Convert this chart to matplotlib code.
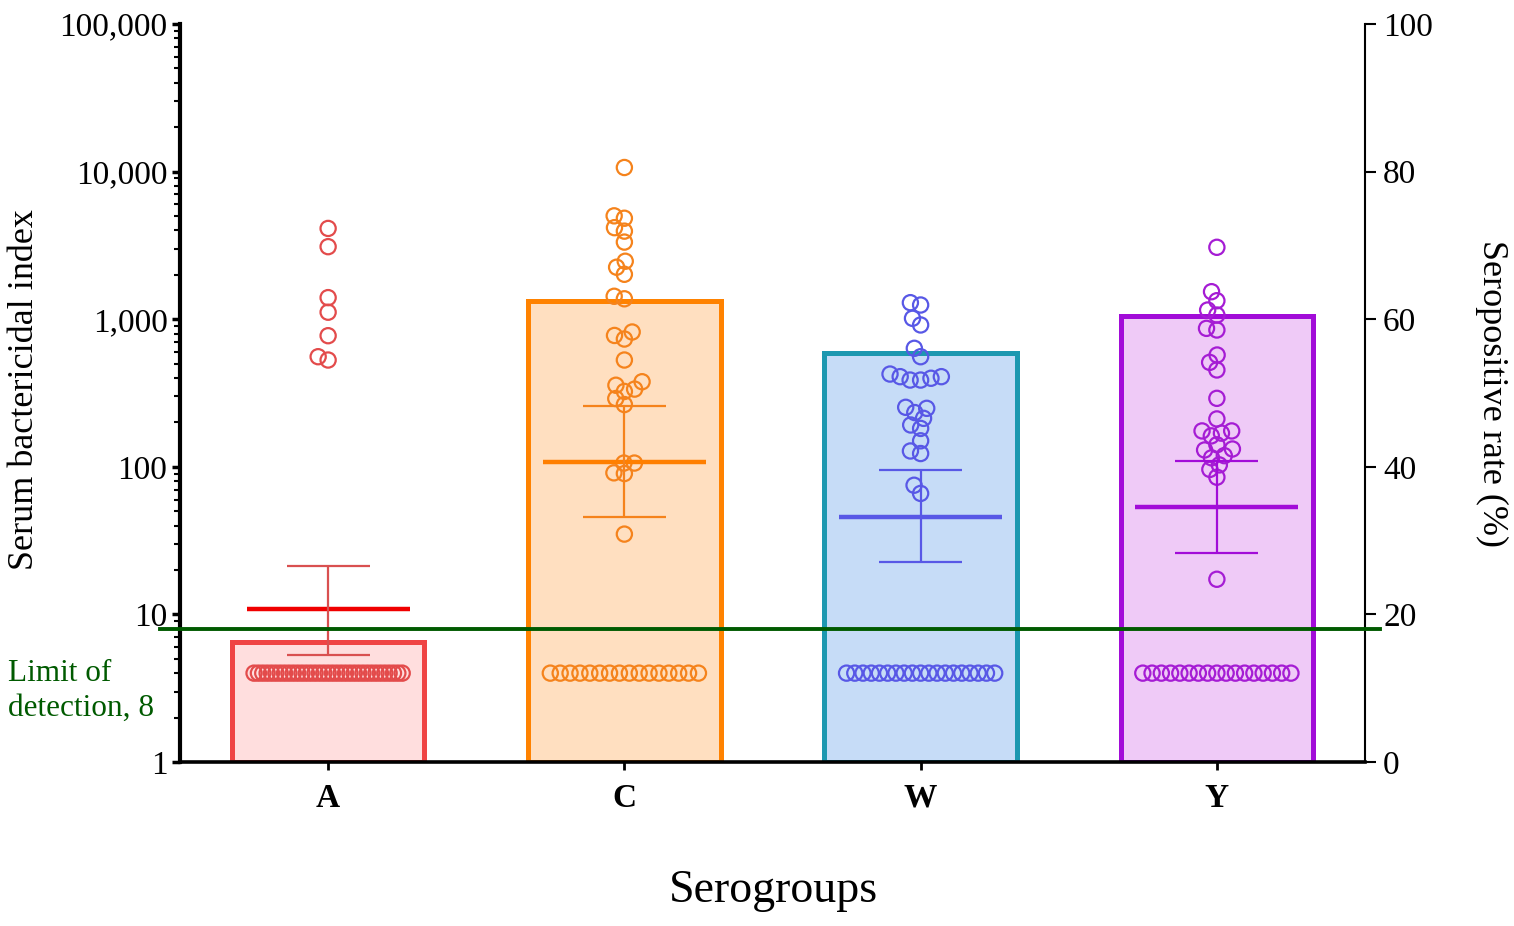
import numpy as np
import matplotlib
matplotlib.use("Agg")
import matplotlib.pyplot as plt
from matplotlib.ticker import FixedLocator, FuncFormatter, LogLocator, NullFormatter

plt.rcParams['font.family'] = ['Liberation Serif', 'DejaVu Serif']

# ---------------- data ----------------
groups = ["A", "C", "W", "Y"]
seropositive_rate = [16.3, 62.5, 55.4, 60.4]          # % (right axis, bars)

A_pos = [4120, 3100, 1400, 1115, 773, 557, 529]
C_pos = [10660, 5015, 4830, 4170, 3950, 3330, 2470, 2250, 2015, 1430, 1375,
         819, 776, 734, 529, 377, 357, 336, 324, 290, 264, 106, 106, 91, 90, 35]
W_pos = [1294, 1248, 1014, 914, 635, 557, 425, 408, 408, 398, 387, 387,
         253, 249, 233, 213, 192, 182, 150, 128, 123, 75, 66]
Y_pos = [3070, 1536, 1334, 1154, 1067, 867, 845, 572, 510, 453, 291, 211,
         175, 175, 169, 162, 141, 132, 130, 119, 115, 103, 96, 85, 17.3]
negative_counts = [35, 16, 19, 17]        # subjects below limit of detection
negative_value = 4                        # plotted at half the LOD
lod = 8

gmt = [10.8, 108, 45.9, 53.7]
ci_low = [5.33, 45.4, 22.8, 26.2]
ci_high = [21.4, 258, 95.1, 110]

positives = [A_pos, C_pos, W_pos, Y_pos]

# ---------------- styles ----------------
bar_edge = ["#EF4444", "#FF8200", "#1D98B0", "#A20CD8"]
bar_fill = ["#FFDEDE", "#FFDFC0", "#C6DCF7", "#EFCAF7"]
pt_color = ["#E34B4B", "#F5831C", "#5858E6", "#A51CD4"]
mean_color = ["#F00000", "#FF7F00", "#5858E6", "#A20CD8"]
err_color = ["#D95050", "#F5831C", "#5858E6", "#A20CD8"]
lod_color = "#005A00"

W_PX, H_PX = 1514, 926
fig = plt.figure(figsize=(W_PX / 100, H_PX / 100), dpi=100)
L, R, T, B = 180, 1365, 24, 762
rect = [L / W_PX, 1 - B / H_PX, (R - L) / W_PX, (B - T) / H_PX]
ax2 = fig.add_axes(rect)
ax = fig.add_axes(rect)
ax.set_zorder(ax2.get_zorder() + 1)
ax.patch.set_visible(False)

x = np.arange(len(groups))
xlim = (-0.5, 3.5)

# bars on right axis
ax2.bar(x, seropositive_rate, width=0.65, color=bar_fill, edgecolor=bar_edge,
        linewidth=3.6, zorder=1)
ax2.set_ylim(0, 100)
ax2.set_xlim(*xlim)
ax2.yaxis.tick_right()

ax.set_yscale("log")
ax.set_ylim(1, 100000)
ax.set_xlim(*xlim)

px_per_x = (R - L) / (xlim[1] - xlim[0])
px_per_dec = (B - T) / 5.0


def swarm(vals, dmin=10.5):
    ys = np.log10(np.asarray(vals, float)) * px_per_dec
    order = np.argsort(ys)
    xs = np.zeros(len(ys))
    placed = []
    for i in order:
        y = ys[i]
        ints = []
        for (xj, yj) in placed:
            dy = abs(y - yj)
            if dy < dmin:
                w = np.sqrt(dmin ** 2 - dy ** 2)
                ints.append((xj - w, xj + w))
        cands = [0.0] + [a for a, b in ints] + [b for a, b in ints]
        cands.sort(key=lambda c: (abs(c), c))
        chosen = 0.0
        for c in cands:
            if all(not (a + 1e-6 < c < b - 1e-6) for a, b in ints):
                chosen = c
                break
        xs[i] = chosen
        placed.append((chosen, y))
    return xs / px_per_x


for i in range(len(groups)):
    vals = positives[i]
    offs = swarm(vals)
    ax.scatter(x[i] + offs, vals, s=120, facecolors="none", edgecolors=pt_color[i],
               linewidths=1.6, zorder=4)
    n = negative_counts[i]
    nx = x[i] + np.linspace(-0.25, 0.25, n)
    ax.scatter(nx, [negative_value] * n, s=120, facecolors="none",
               edgecolors=pt_color[i], linewidths=1.6, zorder=4)
    # geometric mean and CI
    ax.hlines(gmt[i], x[i] - 0.275, x[i] + 0.275, colors=mean_color[i], linewidth=3.2, zorder=5)
    ax.vlines(x[i], ci_low[i], ci_high[i], colors=err_color[i], linewidth=1.6, zorder=5)
    ax.hlines([ci_low[i], ci_high[i]], x[i] - 0.14, x[i] + 0.14, colors=err_color[i],
              linewidth=1.6, zorder=5)

# limit of detection
ax.plot([-0.017, 1.013], [lod, lod], transform=ax.get_yaxis_transform(),
        color=lod_color, linewidth=2.8, clip_on=False, zorder=6)

# axes styling
for s in ["top", "right"]:
    ax.spines[s].set_visible(False)
ax.spines["left"].set_linewidth(3.0)
ax.spines["bottom"].set_linewidth(2.6)
for s in ["top", "left", "bottom"]:
    ax2.spines[s].set_visible(False)
ax2.spines["right"].set_linewidth(1.5)

ax.yaxis.set_major_locator(FixedLocator([1, 10, 100, 1000, 10000, 100000]))
ax.yaxis.set_major_formatter(FuncFormatter(lambda v, p: f"{int(round(v)):,}"))
ax.yaxis.set_minor_locator(LogLocator(base=10, subs=np.arange(2, 10)))
ax.yaxis.set_minor_formatter(NullFormatter())
ax.tick_params(axis="y", which="major", length=6, width=2.5, labelsize=24, pad=3)
ax.tick_params(axis="y", which="minor", length=4, width=1.5)

ax.set_xticks(x)
ax.set_xticklabels(groups, fontweight="bold")
ax.tick_params(axis="x", length=6, width=2, labelsize=24, pad=9)

ax2.set_yticks([0, 20, 40, 60, 80, 100])
ax2.set_xticks([])
ax2.tick_params(axis="y", which="both", left=False, labelleft=False, right=True,
                labelright=True, length=8, width=1.5, labelsize=24, pad=5)

# labels
fig.text(25 / W_PX, 1 - 390 / H_PX, "Serum bactericidal index", rotation=90,
         ha="center", va="center", fontsize=26)
fig.text(1492 / W_PX, 1 - 394 / H_PX, "Seropositive rate (%)", rotation=270,
         ha="center", va="center", fontsize=26)
fig.text(773 / W_PX, 1 - 891 / H_PX, "Serogroups", ha="center", va="center", fontsize=33)
fig.text(8 / W_PX, 1 - 691 / H_PX, "Limit of\ndetection, 8", ha="left", va="center",
         fontsize=22.5, color=lod_color, linespacing=1.3)

fig.savefig("out.png", dpi=100)
